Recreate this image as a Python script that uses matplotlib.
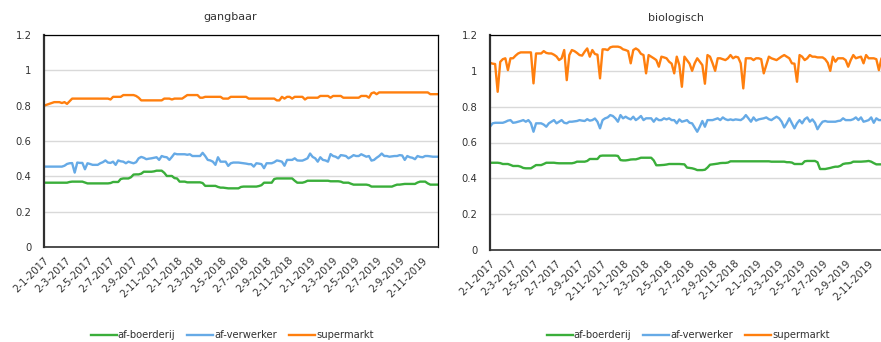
import matplotlib
matplotlib.use("Agg")
import matplotlib.pyplot as plt
import pandas as pd
import numpy as np

# ---------------- data ----------------
start_date = "2017-01-02"
n_weeks = 155

tick_labels = ["2-1-2017", "2-3-2017", "2-5-2017", "2-7-2017", "2-9-2017", "2-11-2017",
               "2-1-2018", "2-3-2018", "2-5-2018", "2-7-2018", "2-9-2018", "2-11-2018",
               "2-1-2019", "2-3-2019", "2-5-2019", "2-7-2019", "2-9-2019", "2-11-2019"]
y_ticks = [0, 0.2, 0.4, 0.6, 0.8, 1.0, 1.2]
y_tick_labels = ["0", "0.2", "0.4", "0.6", "0.8", "1", "1.2"]
series_names = ["af-boerderij", "af-verwerker", "supermarkt"]
panel_titles = ["gangbaar", "biologisch"]

# gangbaar
gang_supermarkt = [
    0.80, 0.805, 0.81, 0.815, 0.82, 0.82, 0.82, 0.815, 0.82, 0.81,
    0.825, 0.84, 0.84, 0.84, 0.84, 0.84, 0.84, 0.84, 0.84, 0.84,
    0.84, 0.84, 0.84, 0.84, 0.84, 0.84, 0.835, 0.85, 0.85, 0.85,
    0.85, 0.86, 0.86, 0.86, 0.86, 0.86, 0.855, 0.845, 0.83, 0.83,
    0.83, 0.83, 0.83, 0.83, 0.83, 0.83, 0.83, 0.84, 0.84, 0.84,
    0.835, 0.84, 0.84, 0.84, 0.84, 0.85, 0.86, 0.86, 0.86, 0.86,
    0.86, 0.845, 0.845, 0.85, 0.85, 0.85, 0.85, 0.85, 0.85, 0.85,
    0.84, 0.84, 0.84, 0.85, 0.85, 0.85, 0.85, 0.85, 0.85, 0.85,
    0.84, 0.84, 0.84, 0.84, 0.84, 0.84, 0.84, 0.84, 0.84, 0.84,
    0.84, 0.83, 0.83, 0.85, 0.84, 0.85, 0.85, 0.84, 0.85, 0.85,
    0.85, 0.85, 0.835, 0.845, 0.845, 0.845, 0.845, 0.845, 0.855, 0.855,
    0.855, 0.855, 0.845, 0.855, 0.855, 0.855, 0.855, 0.845, 0.845, 0.845,
    0.845, 0.845, 0.845, 0.845, 0.855, 0.855, 0.855, 0.845, 0.87, 0.875,
    0.865, 0.875, 0.875, 0.875, 0.875, 0.875, 0.875, 0.875, 0.875, 0.875,
    0.875, 0.875, 0.875, 0.875, 0.875, 0.875, 0.875, 0.875, 0.875, 0.875,
    0.875, 0.865, 0.865, 0.865, 0.865]

gang_verwerker = [
    0.455, 0.455, 0.455, 0.455, 0.455, 0.455, 0.455, 0.455, 0.46, 0.47,
    0.474, 0.475, 0.421, 0.478, 0.476, 0.476, 0.44, 0.474, 0.47, 0.465,
    0.465, 0.465, 0.474, 0.48, 0.49, 0.478, 0.476, 0.483, 0.465, 0.49,
    0.485, 0.483, 0.474, 0.483, 0.478, 0.474, 0.48, 0.502, 0.51, 0.505,
    0.497, 0.5, 0.502, 0.505, 0.508, 0.493, 0.515, 0.51, 0.508, 0.493,
    0.51, 0.529, 0.525, 0.525, 0.525, 0.525, 0.522, 0.525, 0.515, 0.515,
    0.515, 0.515, 0.533, 0.515, 0.493, 0.49, 0.483, 0.465, 0.508, 0.483,
    0.483, 0.483, 0.459, 0.474, 0.478, 0.478, 0.478, 0.476, 0.474, 0.472,
    0.469, 0.469, 0.455, 0.474, 0.472, 0.469, 0.446, 0.474, 0.474, 0.474,
    0.48, 0.49, 0.487, 0.483, 0.46, 0.493, 0.493, 0.493, 0.502, 0.49,
    0.489, 0.489, 0.495, 0.502, 0.529, 0.51, 0.502, 0.483, 0.508, 0.493,
    0.49, 0.483, 0.526, 0.515, 0.511, 0.502, 0.52, 0.518, 0.515, 0.502,
    0.51, 0.52, 0.515, 0.515, 0.525, 0.518, 0.511, 0.515, 0.489, 0.493,
    0.505, 0.515, 0.529, 0.515, 0.515, 0.511, 0.513, 0.515, 0.515, 0.52,
    0.518, 0.493, 0.515, 0.508, 0.505, 0.497, 0.515, 0.51, 0.508, 0.515,
    0.515, 0.513, 0.511, 0.511, 0.511]

gang_boerderij = [
    0.364, 0.364, 0.364, 0.364, 0.364, 0.364, 0.364, 0.364, 0.364, 0.364,
    0.368, 0.37, 0.37, 0.37, 0.37, 0.37, 0.365, 0.36, 0.36, 0.36,
    0.36, 0.36, 0.36, 0.36, 0.36, 0.36, 0.362, 0.368, 0.368, 0.368,
    0.385, 0.388, 0.388, 0.388, 0.395, 0.41, 0.411, 0.411, 0.415, 0.426,
    0.426, 0.426, 0.426, 0.428, 0.432, 0.432, 0.432, 0.42, 0.402, 0.402,
    0.402, 0.39, 0.388, 0.37, 0.37, 0.37, 0.366, 0.366, 0.366, 0.366,
    0.366, 0.366, 0.362, 0.346, 0.346, 0.346, 0.346, 0.346, 0.34, 0.336,
    0.336, 0.334, 0.332, 0.332, 0.332, 0.332, 0.332, 0.34, 0.342, 0.342,
    0.342, 0.342, 0.342, 0.342, 0.345, 0.35, 0.364, 0.364, 0.364, 0.364,
    0.385, 0.388, 0.388, 0.388, 0.388, 0.388, 0.388, 0.388, 0.375, 0.364,
    0.364, 0.364, 0.368, 0.375, 0.375, 0.375, 0.375, 0.375, 0.375, 0.375,
    0.375, 0.375, 0.372, 0.372, 0.372, 0.372, 0.37, 0.364, 0.364, 0.364,
    0.358, 0.353, 0.353, 0.353, 0.353, 0.353, 0.353, 0.35, 0.342, 0.342,
    0.342, 0.342, 0.342, 0.342, 0.342, 0.342, 0.342, 0.348, 0.353, 0.353,
    0.355, 0.357, 0.357, 0.357, 0.357, 0.357, 0.365, 0.37, 0.37, 0.37,
    0.36, 0.353, 0.353, 0.353, 0.353]

# biologisch
bio_supermarkt = [
    1.045, 1.04, 1.038, 0.883, 1.05, 1.065, 1.07, 1.004, 1.07, 1.07,
    1.085, 1.097, 1.103, 1.103, 1.103, 1.103, 1.103, 0.93, 1.097, 1.097,
    1.097, 1.11, 1.1, 1.097, 1.097, 1.09, 1.08, 1.06, 1.07, 1.116,
    0.948, 1.088, 1.116, 1.11, 1.1, 1.088, 1.085, 1.107, 1.125, 1.079,
    1.116, 1.094, 1.09, 0.958, 1.12, 1.12, 1.116, 1.131, 1.135, 1.135,
    1.135, 1.131, 1.12, 1.116, 1.11, 1.042, 1.116, 1.125, 1.116, 1.095,
    1.088, 0.986, 1.088, 1.079, 1.07, 1.06, 1.023, 1.079, 1.075, 1.07,
    1.051, 1.04, 0.986, 1.079, 1.032, 0.911, 1.079, 1.06, 1.04, 1.0,
    1.042, 1.07, 1.051, 1.032, 0.928, 1.088, 1.079, 1.042, 1.0, 1.07,
    1.07, 1.065, 1.06, 1.07, 1.088, 1.07, 1.079, 1.075, 1.042, 0.902,
    1.07, 1.07, 1.07, 1.06, 1.07, 1.07, 1.065, 0.986, 1.032, 1.079,
    1.07, 1.065, 1.06, 1.07, 1.08, 1.088, 1.079, 1.07, 1.042, 1.04,
    0.939, 1.088, 1.079, 1.06, 1.07, 1.088, 1.079, 1.079, 1.075, 1.075,
    1.075, 1.065, 1.045, 1.0, 1.079, 1.051, 1.07, 1.07, 1.07, 1.06,
    1.023, 1.06, 1.088, 1.07, 1.075, 1.079, 1.042, 1.088, 1.07, 1.07,
    1.07, 1.065, 1.004, 1.07, 1.07]

bio_verwerker = [
    0.688, 0.707, 0.71, 0.71, 0.71, 0.71, 0.715, 0.722, 0.725, 0.71,
    0.712, 0.716, 0.72, 0.725, 0.716, 0.725, 0.707, 0.66, 0.707, 0.707,
    0.707, 0.70, 0.688, 0.707, 0.716, 0.725, 0.707, 0.716, 0.725, 0.71,
    0.707, 0.716, 0.716, 0.718, 0.72, 0.725, 0.722, 0.72, 0.73, 0.722,
    0.725, 0.734, 0.716, 0.679, 0.725, 0.735, 0.74, 0.753, 0.748, 0.735,
    0.716, 0.753, 0.735, 0.744, 0.735, 0.729, 0.744, 0.725, 0.735, 0.748,
    0.725, 0.735, 0.735, 0.735, 0.716, 0.735, 0.725, 0.725, 0.735, 0.729,
    0.735, 0.725, 0.725, 0.707, 0.729, 0.716, 0.72, 0.725, 0.71, 0.707,
    0.684, 0.66, 0.688, 0.72, 0.688, 0.725, 0.725, 0.725, 0.73, 0.735,
    0.725, 0.74, 0.73, 0.725, 0.729, 0.725, 0.729, 0.727, 0.725, 0.735,
    0.753, 0.735, 0.716, 0.74, 0.722, 0.729, 0.732, 0.735, 0.74, 0.73,
    0.725, 0.735, 0.744, 0.735, 0.716, 0.684, 0.707, 0.735, 0.707, 0.679,
    0.707, 0.725, 0.707, 0.73, 0.74, 0.716, 0.729, 0.71, 0.674, 0.698,
    0.716, 0.72, 0.716, 0.716, 0.716, 0.716, 0.72, 0.722, 0.735, 0.725,
    0.725, 0.725, 0.73, 0.74, 0.725, 0.74, 0.716, 0.72, 0.725, 0.74,
    0.71, 0.735, 0.725, 0.725, 0.725]

bio_boerderij = [
    0.487, 0.487, 0.487, 0.487, 0.485, 0.48, 0.48, 0.48, 0.475, 0.469,
    0.469, 0.469, 0.465, 0.458, 0.456, 0.456, 0.456, 0.465, 0.474, 0.474,
    0.474, 0.48, 0.487, 0.487, 0.487, 0.487, 0.485, 0.484, 0.484, 0.484,
    0.484, 0.484, 0.484, 0.487, 0.493, 0.493, 0.493, 0.493, 0.497, 0.508,
    0.508, 0.508, 0.508, 0.525, 0.527, 0.527, 0.527, 0.527, 0.527, 0.527,
    0.525, 0.502, 0.50, 0.50, 0.502, 0.505, 0.506, 0.506, 0.51, 0.515,
    0.515, 0.515, 0.515, 0.515, 0.50, 0.473, 0.473, 0.474, 0.475, 0.477,
    0.48, 0.48, 0.48, 0.48, 0.48, 0.479, 0.478, 0.46, 0.458, 0.456,
    0.452, 0.446, 0.446, 0.446, 0.448, 0.46, 0.476, 0.478, 0.48, 0.482,
    0.485, 0.486, 0.486, 0.488, 0.495, 0.495, 0.495, 0.495, 0.495, 0.495,
    0.495, 0.495, 0.495, 0.495, 0.495, 0.495, 0.495, 0.495, 0.495, 0.495,
    0.493, 0.493, 0.493, 0.493, 0.493, 0.493, 0.49, 0.49, 0.488, 0.48,
    0.48, 0.48, 0.48, 0.495, 0.497, 0.497, 0.497, 0.497, 0.49, 0.452,
    0.452, 0.452, 0.455, 0.458, 0.462, 0.465, 0.465, 0.47, 0.48, 0.483,
    0.484, 0.486, 0.493, 0.493, 0.493, 0.493, 0.494, 0.495, 0.497, 0.493,
    0.485, 0.478, 0.478, 0.478, 0.478]

# ---------------- styling ----------------
colors = ["#3aae3a", "#66aae6", "#ff7f0e"]
plt.rcParams["font.family"] = ["DejaVu Sans"]

W, H = 881, 342
fig = plt.figure(figsize=(W / 100, H / 100), dpi=100)

dates = pd.date_range(start=start_date, periods=n_weeks, freq="7D")
tick_dates = pd.to_datetime(tick_labels, format="%d-%m-%Y")

panels = [
    dict(rect=(44, 35, 438, 247), data=[gang_boerderij, gang_verwerker, gang_supermarkt],
         title=panel_titles[0], tpos=(230, 17), lpos=232),
    dict(rect=(490, 35, 884, 250), data=[bio_boerderij, bio_verwerker, bio_supermarkt],
         title=panel_titles[1], tpos=(676, 18), lpos=688),
]

for p in panels:
    x0, y0, x1, y1 = p["rect"]
    ax = fig.add_axes([x0 / W, 1 - y1 / H, (x1 - x0) / W, (y1 - y0) / H])
    handles = []
    for vals, c, name in zip(p["data"], colors, series_names):
        h, = ax.plot(dates, vals, color=c, lw=1.7, label=name, solid_joinstyle="round")
        handles.append(h)
    ax.set_xlim(dates[0], dates[-1])
    ax.set_ylim(0, 1.2)
    ax.set_yticks(y_ticks)
    ax.set_yticklabels(y_tick_labels, fontsize=7.2, color="#333333")
    ax.set_xticks(tick_dates)
    ax.set_xticklabels(tick_labels, fontsize=7.2, rotation=45, ha="right",
                       rotation_mode="anchor", color="#333333")
    ax.tick_params(axis="both", length=0)
    ax.tick_params(axis="y", pad=9)
    ax.tick_params(axis="x", pad=6)
    ax.grid(axis="y", color="#d9d9d9", lw=1)
    ax.set_axisbelow(True)
    for s in ["top", "right"]:
        ax.spines[s].set_color("black")
        ax.spines[s].set_linewidth(0.9)
    ax.spines["left"].set_color("#303030")
    ax.spines["left"].set_linewidth(1.6)
    ax.spines["bottom"].set_color("#303030")
    ax.spines["bottom"].set_linewidth(1.2)
    fig.text(p["tpos"][0] / W, 1 - p["tpos"][1] / H, p["title"], ha="center", va="center",
             fontsize=8, color="#333333")
    fig.legend(handles=handles, loc="center", bbox_to_anchor=(p["lpos"] / W, 1 - 335 / H),
               ncol=3, frameon=False, fontsize=7.2, handlelength=2.6, handletextpad=0.1,
               columnspacing=1.2, labelcolor="#333333")

fig.savefig("out.png", dpi=100)
